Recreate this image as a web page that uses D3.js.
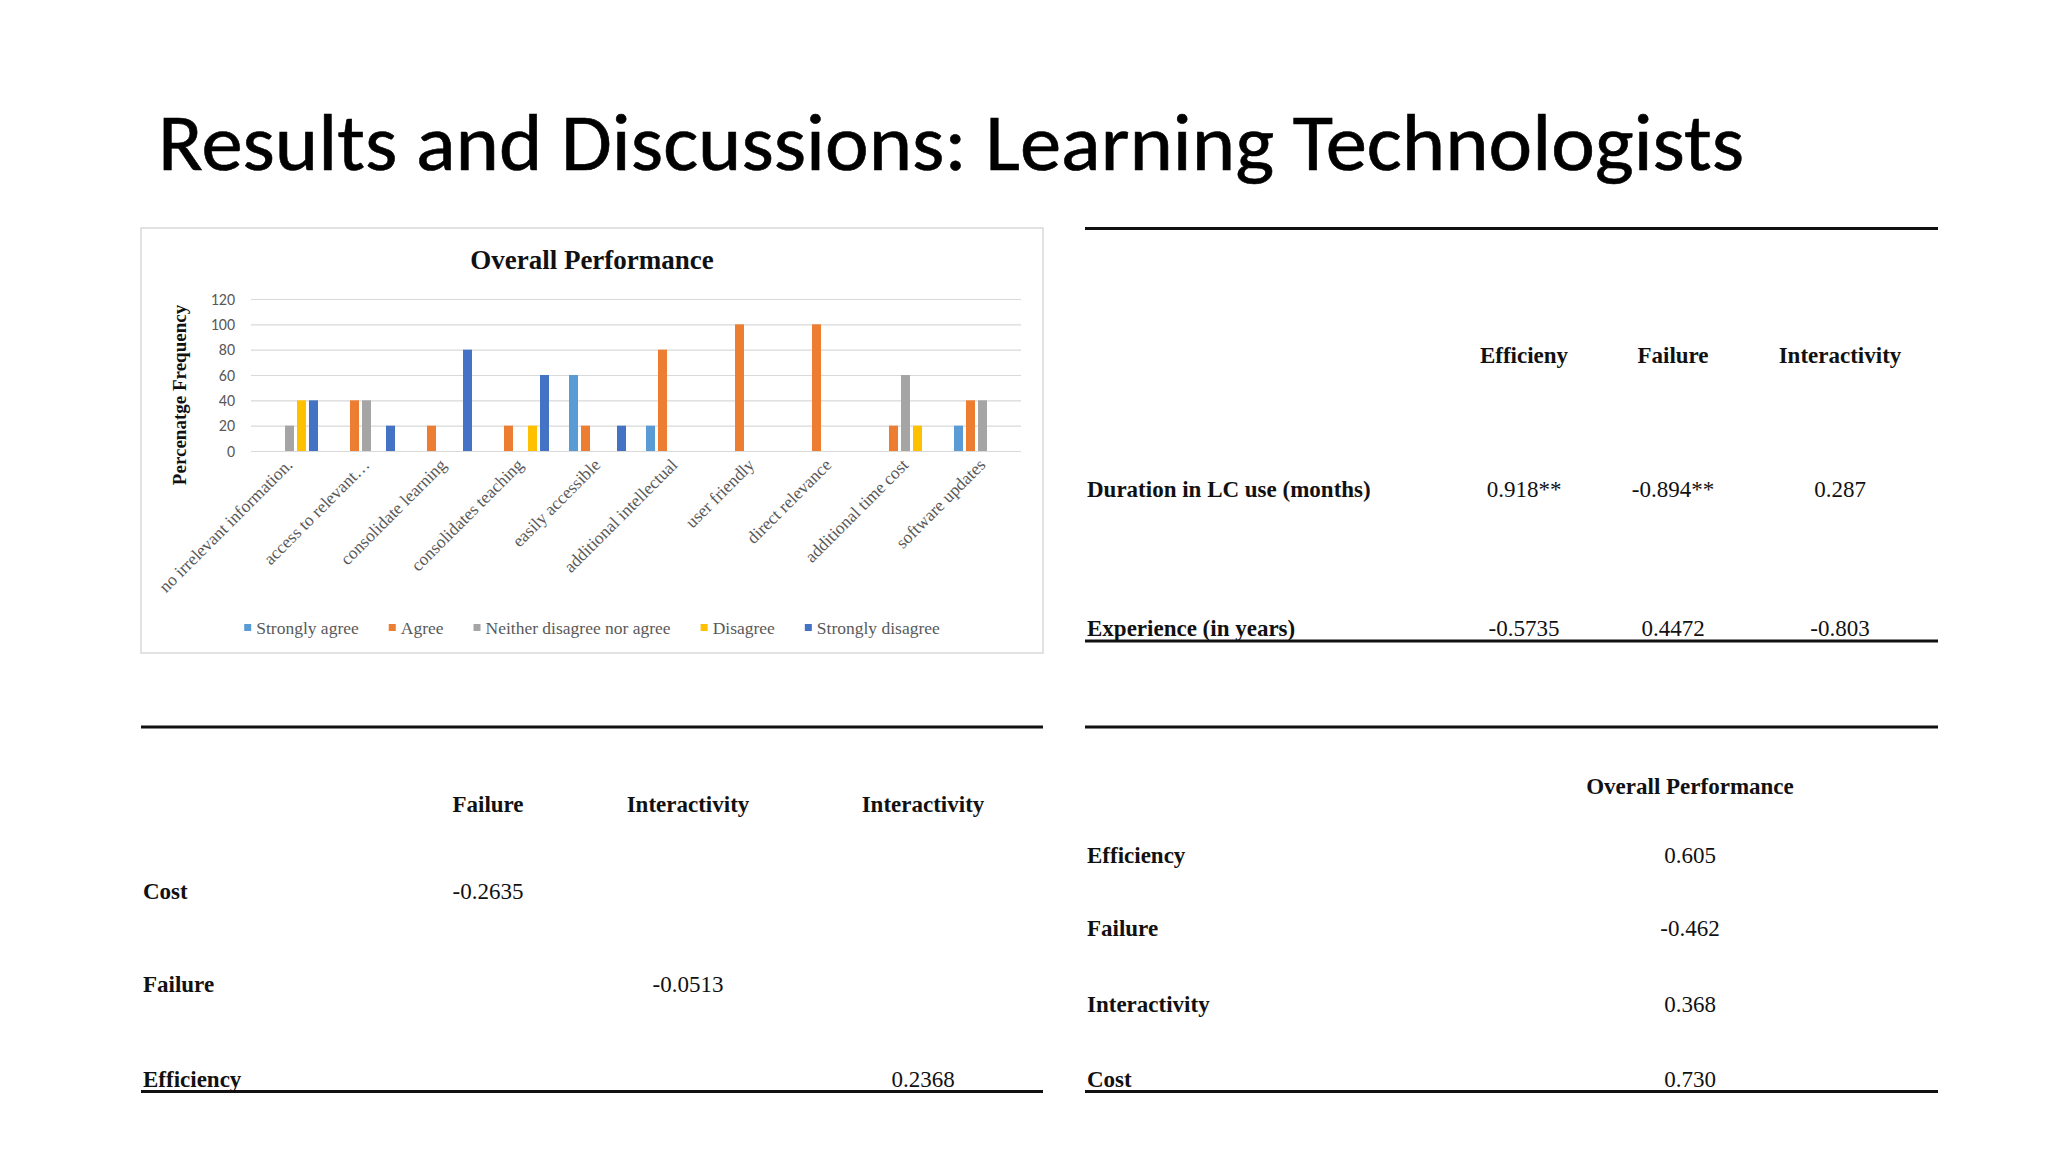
<!DOCTYPE html>
<html>
<head>
<meta charset="utf-8">
<script src="https://cdn.jsdelivr.net/npm/d3@7"></script>
<style>
    html, body { margin: 0; padding: 0; background: #ffffff; }
    svg { display: block; }
</style>
</head>
<body>
<svg id="slide" width="2048" height="1152"></svg>
<script>
// chart data
const categories = [
    "no irrelevant information.", "access to relevant…", "consolidate learning",
    "consolidates teaching", "easily accessible", "additional intellectual",
    "user friendly", "direct relevance", "additional time cost", "software updates"
];
const seriesNames = ["Strongly agree", "Agree", "Neither disagree nor agree", "Disagree", "Strongly disagree"];
const stronglyAgree =    [0, 0, 0, 0, 60, 20, 0, 0, 0, 20];
const agree =            [0, 40, 20, 20, 20, 80, 100, 100, 20, 40];
const neither =          [20, 40, 0, 0, 0, 0, 0, 0, 60, 40];
const disagree =         [40, 0, 0, 20, 0, 0, 0, 0, 20, 0];
const stronglyDisagree = [40, 20, 80, 60, 20, 0, 0, 0, 0, 0];
const yTicks = [0, 20, 40, 60, 80, 100, 120];

// table data
const t1Cols = ["Efficieny", "Failure", "Interactivity"];
const t1Rows = ["Duration in LC use (months)", "Experience (in years)"];
const t1Values = [["0.918**", "-0.894**", "0.287"], ["-0.5735", "0.4472", "-0.803"]];

const t2Cols = ["Failure", "Interactivity", "Interactivity"];
const t2Rows = ["Cost", "Failure", "Efficiency"];
const t2Values = [["-0.2635", "", ""], ["", "-0.0513", ""], ["", "", "0.2368"]];

const t3Cols = ["Overall Performance"];
const t3Rows = ["Efficiency", "Failure", "Interactivity", "Cost"];
const t3Values = [["0.605"], ["-0.462"], ["0.368"], ["0.730"]];

const seriesValues = [stronglyAgree, agree, neither, disagree, stronglyDisagree];
const colors = ["#5B9BD5", "#ED7D31", "#A5A5A5", "#FFC000", "#4472C4"];
const serif = "'Liberation Serif', 'Times New Roman', serif";

const svg = d3.select("#slide");

// slide title
svg.append("text")
    .attr("x", 158)
    .attr("y", 170)
    .attr("textLength", 1586)
    .attr("lengthAdjust", "spacingAndGlyphs")
    .style("font-family", "Calibri, Carlito, Lato, sans-serif")
    .style("font-size", "80px")
    .style("fill", "#000")
    .style("stroke", "#000")
    .style("stroke-width", 0.6)
    .text("Results and Discussions: Learning Technologists");

// ---- bar chart ----
const box = { x: 141, y: 228, w: 902, h: 425 };
const chart = svg.append("g");

chart.append("rect")
    .attr("x", box.x).attr("y", box.y)
    .attr("width", box.w).attr("height", box.h)
    .attr("fill", "#fff")
    .attr("stroke", "#d9d9d9")
    .attr("stroke-width", 1.5);

chart.append("text")
    .attr("x", 592).attr("y", 269)
    .attr("text-anchor", "middle")
    .style("font-family", serif)
    .style("font-size", "27px")
    .style("font-weight", 700)
    .style("fill", "#111")
    .text("Overall Performance");

const x = d3.scaleBand().domain(categories).range([251, 1021]);
const xInner = d3.scaleBand().domain(seriesNames).range([-30, 30]).paddingInner(0.25).paddingOuter(0.125);
const y = d3.scaleLinear().domain([0, 120]).range([451, 299]);

const yAxis = chart.append("g")
    .attr("transform", "translate(251,0)")
    .call(d3.axisLeft(y).tickValues(yTicks).tickSize(-770).tickPadding(16));
yAxis.select(".domain").remove();
yAxis.selectAll(".tick line").attr("stroke", "#d9d9d9").attr("stroke-width", 1.2);
yAxis.selectAll(".tick text")
    .style("font-family", "Calibri, Carlito, Lato, sans-serif")
    .style("font-size", "16px")
    .style("fill", "#595959");

chart.append("text")
    .attr("transform", "translate(186,395) rotate(-90)")
    .attr("text-anchor", "middle")
    .style("font-family", serif)
    .style("font-size", "19px")
    .style("font-weight", 700)
    .style("fill", "#111")
    .text("Percenatge Frequency");

const groups = chart.selectAll("g.cat")
    .data(categories)
    .enter()
    .append("g")
    .attr("class", "cat")
    .attr("transform", d => `translate(${x(d) + x.bandwidth() / 2},0)`);

groups.selectAll("rect")
    .data((c, i) => seriesNames.map((s, j) => ({ s, v: seriesValues[j][i], color: colors[j] })))
    .enter()
    .filter(d => d.v > 0)
    .append("rect")
    .attr("x", d => xInner(d.s))
    .attr("width", xInner.bandwidth())
    .attr("y", d => y(d.v))
    .attr("height", d => y(0) - y(d.v))
    .attr("fill", d => d.color);

chart.selectAll("text.xlab")
    .data(categories)
    .enter()
    .append("text")
    .attr("class", "xlab")
    .attr("transform", d => `translate(${x(d) + x.bandwidth() / 2 + 4},466) rotate(-45)`)
    .attr("text-anchor", "end")
    .style("font-family", serif)
    .style("font-size", "17.5px")
    .style("fill", "#595959")
    .text(d => d);

// legend, centred under the plot
const legend = chart.append("g").attr("transform", "translate(0,628)");
const items = legend.selectAll("g")
    .data(seriesNames)
    .enter()
    .append("g");
items.append("rect")
    .attr("y", -4).attr("width", 7).attr("height", 7)
    .attr("fill", (d, i) => colors[i]);
items.append("text")
    .attr("x", 12).attr("y", 6)
    .style("font-family", serif)
    .style("font-size", "17.5px")
    .style("fill", "#595959")
    .text(d => d);

const widths = [];
items.each(function () { widths.push(this.querySelector("text").getComputedTextLength() + 12); });
const gap = 30;
const total = d3.sum(widths) + gap * (widths.length - 1);
let cx = 592 - total / 2;
items.attr("transform", (d, i) => {
    const t = `translate(${cx},0)`;
    cx += widths[i] + gap;
    return t;
});

// ---- tables ----
function drawTable(cfg) {
    const g = svg.append("g");
    g.append("line")
        .attr("x1", cfg.x0).attr("x2", cfg.x1)
        .attr("y1", cfg.top).attr("y2", cfg.top)
        .attr("stroke", "#111").attr("stroke-width", 3);
    g.append("line")
        .attr("x1", cfg.x0).attr("x2", cfg.x1)
        .attr("y1", cfg.bottom).attr("y2", cfg.bottom)
        .attr("stroke", "#111").attr("stroke-width", 3);

    const txt = sel => sel
        .style("font-family", serif)
        .style("font-size", "23px")
        .style("fill", "#111");

    g.selectAll("text.head")
        .data(cfg.cols)
        .enter()
        .append("text")
        .attr("class", "head")
        .attr("x", (d, i) => cfg.colX[i])
        .attr("y", cfg.headY)
        .attr("text-anchor", "middle")
        .call(txt)
        .style("font-weight", 700)
        .text(d => d);

    g.selectAll("text.row")
        .data(cfg.rows)
        .enter()
        .append("text")
        .attr("class", "row")
        .attr("x", cfg.x0 + 2)
        .attr("y", (d, i) => cfg.rowY[i])
        .call(txt)
        .style("font-weight", 700)
        .text(d => d);

    cfg.values.forEach((row, r) => {
        g.selectAll(null)
            .data(row)
            .enter()
            .append("text")
            .attr("x", (d, i) => cfg.colX[i])
            .attr("y", cfg.rowY[r])
            .attr("text-anchor", "middle")
            .call(txt)
            .text(d => d);
    });
}

drawTable({
    x0: 1085, x1: 1938, top: 228.5, bottom: 641,
    cols: t1Cols, rows: t1Rows, values: t1Values,
    colX: [1524, 1673, 1840], headY: 363, rowY: [497, 636]
});

drawTable({
    x0: 141, x1: 1043, top: 727, bottom: 1091.5,
    cols: t2Cols, rows: t2Rows, values: t2Values,
    colX: [488, 688, 923], headY: 812, rowY: [899, 992, 1087]
});

drawTable({
    x0: 1085, x1: 1938, top: 727, bottom: 1091.5,
    cols: t3Cols, rows: t3Rows, values: t3Values,
    colX: [1690], headY: 794, rowY: [863, 936, 1012, 1087]
});
</script>
</body>
</html>
